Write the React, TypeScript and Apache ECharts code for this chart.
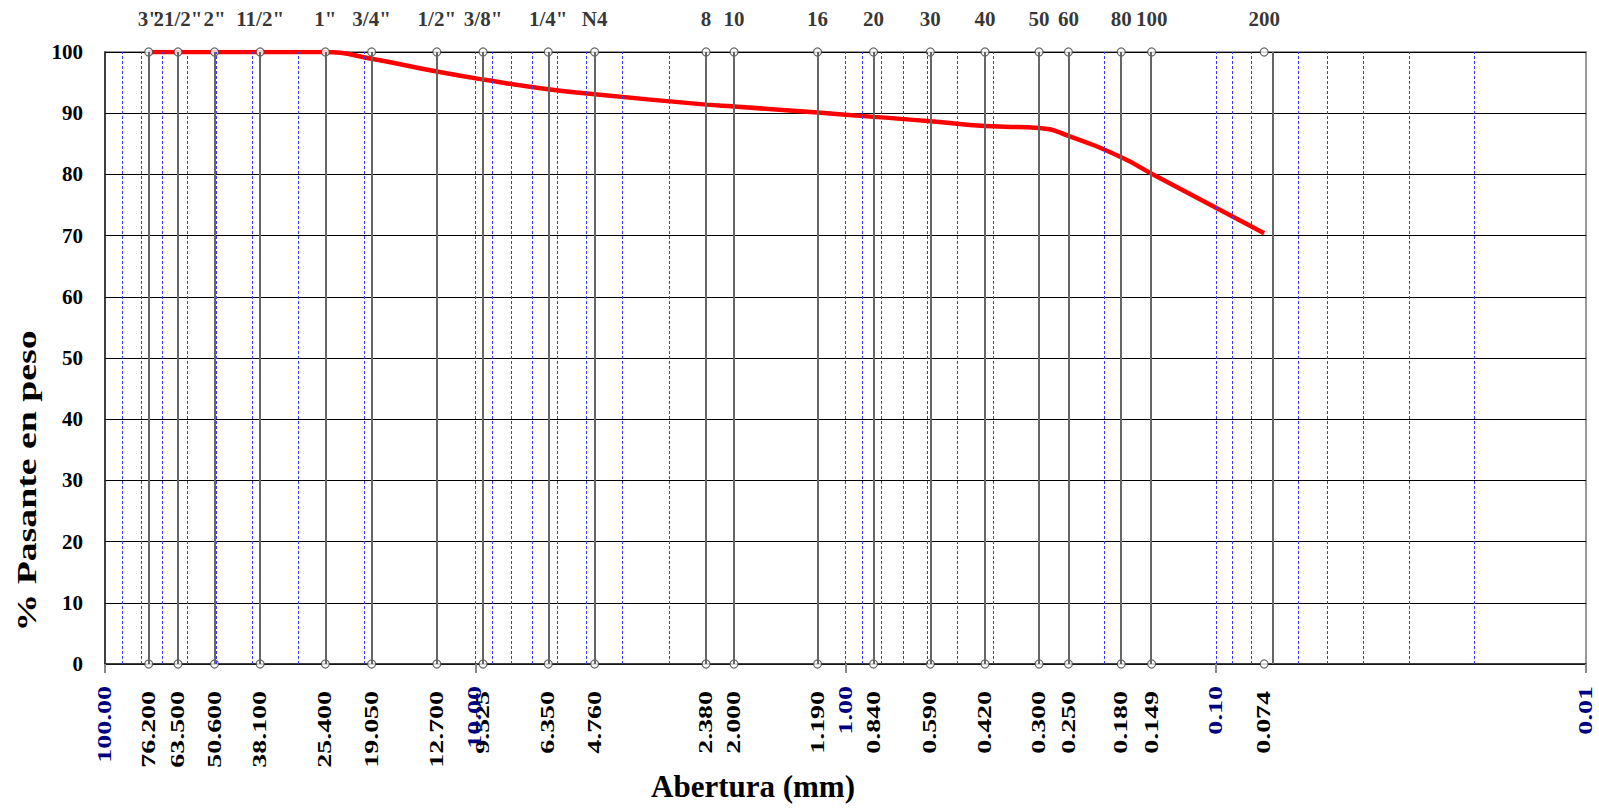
import React, { useEffect, useRef } from 'react';
import * as echarts from 'echarts';

// Sieve designations (top labels)
const sieveNames = ['3"', '21/2"', '2"', '11/2"', '1"', '3/4"', '1/2"', '3/8"', '1/4"', 'N4', '8', '10', '16', '20', '30', '40', '50', '60', '80', '100', '200'];
// Sieve openings in mm
const sieveSizes = [76.2, 63.5, 50.6, 38.1, 25.4, 19.05, 12.7, 9.525, 6.35, 4.76, 2.38, 2.0, 1.19, 0.84, 0.59, 0.42, 0.3, 0.25, 0.18, 0.149, 0.074];
// Opening labels (bottom)
const sizeLabels = ['76.200', '63.500', '50.600', '38.100', '25.400', '19.050', '12.700', '9.525', '6.350', '4.760', '2.380', '2.000', '1.190', '0.840', '0.590', '0.420', '0.300', '0.250', '0.180', '0.149', '0.074'];
// % passing
const percentPassing = [100, 100, 100, 100, 100, 98.9, 96.8, 95.5, 93.9, 93.1, 91.4, 91.1, 90.1, 89.4, 88.7, 87.9, 87.6, 86.3, 82.8, 80.1, 70.4];
// Decade labels of the log axis
const decadeValues = [100, 10, 1, 0.1, 0.01];
const decadeLabels = ['100.00', '10.00', '1.00', '0.10', '0.01'];
// Log grid lines (blue dashed)
const logGrid = [90, 80, 70, 60, 50, 40, 30, 20, 10, 9, 8, 7, 6, 5, 4, 3, 2, 1, 0.9, 0.8, 0.7, 0.6, 0.5, 0.4, 0.3, 0.2, 0.1, 0.09, 0.08, 0.07, 0.06, 0.05, 0.04, 0.03, 0.02];

const SERIF = '"Liberation Serif", "Times New Roman", serif';

export default function App() {
  const ref = useRef<HTMLDivElement>(null);

  useEffect(() => {
    if (!ref.current) return;
    const chart = echarts.init(ref.current, undefined, { renderer: 'svg' });

    const option: any = {
      animation: false,
      backgroundColor: '#ffffff',
      grid: {
        left: 105,
        right: 13,
        top: 52,
        bottom: 144,
        show: true,
        borderColor: '#777',
        borderWidth: 1.5,
      },
      xAxis: {
        type: 'log',
        logBase: 10,
        min: 0.01,
        max: 100,
        inverse: true,
        axisLine: { show: true, lineStyle: { color: '#222', width: 1.5 } },
        axisTick: { show: true, length: 9, lineStyle: { color: '#888', width: 2 } },
        axisLabel: { show: false },
        splitLine: { show: false },
      },
      yAxis: {
        type: 'value',
        min: 0,
        max: 100,
        interval: 10,
        axisLine: { show: true, lineStyle: { color: '#222', width: 1.5 } },
        axisTick: { show: false },
        axisLabel: {
          color: '#000',
          fontFamily: SERIF,
          fontWeight: 'bold',
          fontSize: 21,
          margin: 22,
        },
        splitLine: { show: true, lineStyle: { color: '#000', width: 1.2 } },
      },
      series: [
        {
          name: 'logGrid',
          type: 'line',
          data: [],
          z: 1,
          silent: true,
          markLine: {
            silent: true,
            symbol: 'none',
            label: { show: false },
            lineStyle: { color: '#3a3aff', type: [3, 2], width: 1 },
            data: logGrid.map((v) => ({ xAxis: v })),
          },
        },
        {
          name: 'sieveLines',
          type: 'line',
          data: [],
          z: 2,
          silent: true,
          markLine: {
            silent: true,
            symbol: 'none',
            label: { show: false },
            lineStyle: { color: '#666', type: 'solid', width: 2 },
            data: sieveSizes.map((v) => ({ xAxis: v })),
          },
        },
        {
          name: 'curve',
          type: 'line',
          z: 3,
          data: sieveSizes.map((s, i) => [s, percentPassing[i]]),
          smooth: 0.5,
          showSymbol: false,
          symbol: 'none',
          lineStyle: { color: '#ff0000', width: 4.5 },
        },
        {
          name: 'sieveTop',
          type: 'scatter',
          z: 4,
          symbol: 'circle',
          symbolSize: 8,
          itemStyle: { color: '#ffffff', borderColor: '#444', borderWidth: 1.2 },
          data: sieveSizes.map((s, i) => ({ value: [s, 100], name: sieveNames[i] })),
          label: {
            show: true,
            position: 'top',
            distance: 18,
            formatter: (p: any) => p.name,
            color: '#000',
            fontFamily: SERIF,
            fontWeight: 'bold',
            fontSize: 21,
          },
        },
        {
          name: 'sieveBottom',
          type: 'scatter',
          z: 4,
          symbol: 'circle',
          symbolSize: 8,
          itemStyle: { color: '#ffffff', borderColor: '#444', borderWidth: 1.2 },
          data: sieveSizes.map((s) => [s, 0]),
        },
      ],
    };

    chart.setOption(option);

    const graphics: any[] = [];
    sieveSizes.forEach((s, i) => {
      const p = chart.convertToPixel({ gridIndex: 0 }, [s, 0]) as number[];
      graphics.push({
        type: 'text',
        x: p[0],
        y: p[1] + 27,
        rotation: Math.PI / 2,
        scaleX: 1.55,
        silent: true,
        style: {
          text: sizeLabels[i],
          fontFamily: SERIF,
          fontWeight: 'bold',
          fontSize: 18,
          fill: '#000',
          align: 'right',
          verticalAlign: 'middle',
        },
      });
    });
    decadeValues.forEach((v, i) => {
      const p = chart.convertToPixel({ gridIndex: 0 }, [v, 0]) as number[];
      graphics.push({
        type: 'text',
        x: p[0],
        y: p[1] + 22,
        rotation: Math.PI / 2,
        scaleX: 1.55,
        silent: true,
        style: {
          text: decadeLabels[i],
          fontFamily: SERIF,
          fontWeight: 'bold',
          fontSize: 18,
          fill: '#00007f',
          align: 'right',
          verticalAlign: 'middle',
        },
      });
    });
    graphics.push({
      type: 'text',
      x: 27,
      y: 481,
      rotation: Math.PI / 2,
      scaleX: 1.4,
      silent: true,
      style: {
        text: '% Pasante en peso',
        fontFamily: SERIF,
        fontWeight: 'bold',
        fontSize: 27,
        fill: '#000',
        align: 'center',
        verticalAlign: 'middle',
      },
    });
    graphics.push({
      type: 'text',
      x: 753,
      y: 786,
      silent: true,
      style: {
        text: 'Abertura (mm)',
        fontFamily: SERIF,
        fontWeight: 'bold',
        fontSize: 31,
        fill: '#000',
        align: 'center',
        verticalAlign: 'middle',
      },
    });

    chart.setOption({ graphic: graphics });

    return () => {
      chart.dispose();
    };
  }, []);

  return (
    <div
      ref={ref}
      style={{ position: 'absolute', left: 0, top: 0, width: 1599, height: 808 }}
    />
  );
}
